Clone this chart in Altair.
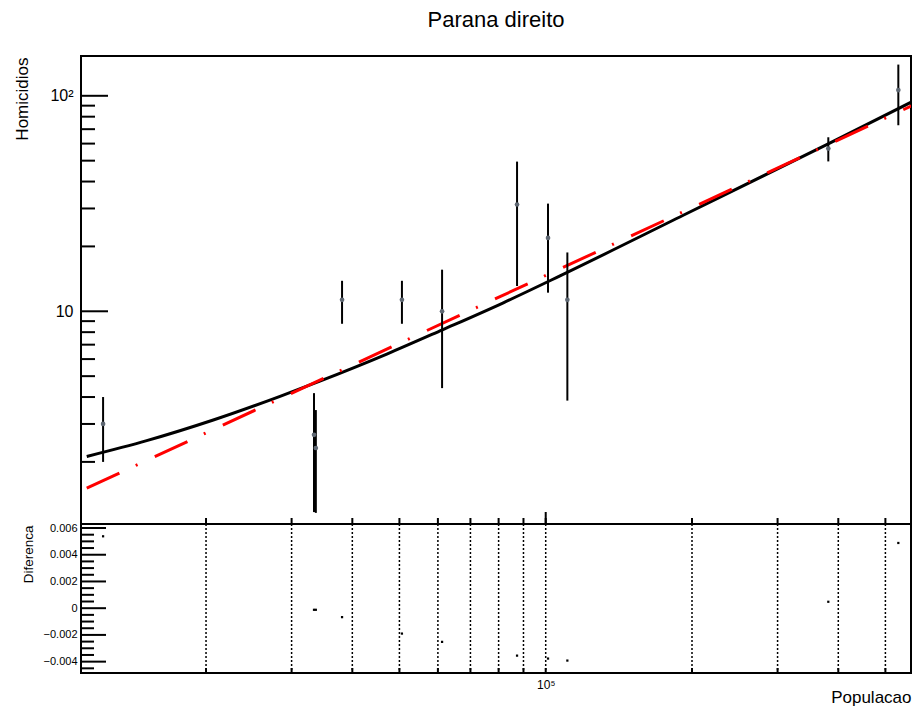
import altair as alt
import pandas as pd

FONT = "Liberation Sans"

# ---- measured data points (top panel) ----
pop = [12280, 33360, 33650, 38100, 50600, 61200, 87300, 101100, 110800, 381500, 531600]
hom = [3.0, 2.67, 2.32, 11.3, 11.3, 10.0, 31.3, 21.9, 11.3, 56.9, 106.3]
err = [1.0, 1.5, 1.16, 2.55, 2.55, 5.6, 18.2, 9.7, 7.45, 7.3, 33.3]
# residuals (bottom panel)
res = [0.00538, -0.00012, -0.00012, -0.00067, -0.0019, -0.00252, -0.00355, -0.00377, -0.00392, 0.00048, 0.00488]

# black fit curve
fit_pop = [11365, 15100, 20700, 28400, 34300, 47100, 61300, 81800, 107000, 191900, 378600, 570500]
fit_hom = [2.12, 2.51, 3.13, 4.03, 4.74, 6.33, 8.2, 10.95, 14.6, 27.9, 59.4, 94.5]

# red dash-dot power law (straight in log-log)
pow_pop = [11365, 570500]
pow_hom = [1.51, 90.5]

# ticks
y_major_top = [10, 100]
y_minor_top = [2, 3, 4, 5, 6, 7, 8, 9, 20, 30, 40, 50, 60, 70, 80, 90]
x_major = [100000]
x_minor = [20000, 30000, 40000, 50000, 60000, 70000, 80000, 90000, 200000, 300000, 400000, 500000]
x_all = x_minor + x_major
res_major = [-0.004, -0.002, 0, 0.002, 0.004, 0.006]
res_minor = [-0.0045, -0.0035, -0.003, -0.0025, -0.0015, -0.001, -0.0005, 0.0005, 0.001,
             0.0015, 0.0025, 0.003, 0.0035, 0.0045, 0.005, 0.0055]

W, H1, H2 = 830, 468, 149

df = pd.DataFrame({"pop": pop, "hom": hom, "err": err, "res": res})
df["lo"] = df["hom"] - df["err"]
df["hi"] = df["hom"] + df["err"]
fit_df = pd.DataFrame({"pop": fit_pop, "hom": fit_hom})
pow_df = pd.DataFrame({"pop": pow_pop, "hom": pow_hom})

xs = alt.Scale(type="log", domain=[11060, 564500], nice=False)
ys1 = alt.Scale(type="log", domain=[1.03, 153], nice=False)
ys2 = alt.Scale(type="linear", domain=[-0.00485, 0.0063], nice=False, zero=False)

yax1 = alt.Axis(values=y_major_top, labelExpr="datum.value >= 100 ? '10²' : '10'",
                ticks=False, domain=False, grid=False, labelFontSize=16, labelPadding=8,
                labelFont=FONT, labelColor="black", title="Homicidios", titleFont=FONT,
                titleFontSize=17, titleFontWeight="normal", titleColor="black",
                titleX=-59, titleY=1, titleAlign="right", titleBaseline="middle", titleAngle=270)

fit = alt.Chart(fit_df).mark_line(color="black", strokeWidth=3, interpolate="monotone", clip=True).encode(
    x=alt.X("pop:Q", scale=xs, axis=None), y=alt.Y("hom:Q", scale=ys1, axis=yax1))
powl = alt.Chart(pow_df).mark_line(color="#ff0000", strokeWidth=3, strokeDash=[36, 18, 2, 19], clip=True).encode(
    x=alt.X("pop:Q", scale=xs, axis=None), y=alt.Y("hom:Q", scale=ys1, axis=yax1))
bars = alt.Chart(df).mark_rule(color="black", strokeWidth=2).encode(
    x=alt.X("pop:Q", scale=xs, axis=None), y=alt.Y("lo:Q", scale=ys1, axis=yax1), y2="hi:Q")
pts = alt.Chart(df).mark_circle(color="#5f6873", size=22, opacity=1).encode(
    x=alt.X("pop:Q", scale=xs, axis=None), y=alt.Y("hom:Q", scale=ys1, axis=yax1))
ytm = alt.Chart(pd.DataFrame({"v": y_major_top})).mark_rule(color="black", strokeWidth=2).encode(
    y=alt.Y("v:Q", scale=ys1, axis=yax1), x=alt.value(0), x2=alt.value(27))
ytn = alt.Chart(pd.DataFrame({"v": y_minor_top})).mark_rule(color="black", strokeWidth=2).encode(
    y=alt.Y("v:Q", scale=ys1, axis=yax1), x=alt.value(0), x2=alt.value(14))

top = alt.layer(fit, powl, bars, pts, ytm, ytn).properties(
    width=W, height=H1,
    title=alt.TitleParams("Parana direito", font=FONT, fontSize=22, fontWeight="normal",
                          color="black", anchor="middle", frame="group", offset=24))

xax2 = alt.Axis(values=x_major, labelExpr="'10⁵'", ticks=False, domain=False, grid=False,
                labelFontSize=12, labelPadding=6, labelFont=FONT, labelColor="black",
                title="Populacao", titleFont=FONT, titleFontSize=17, titleFontWeight="normal",
                titleColor="black", titleX=W, titleY=29, titleAlign="right",
                titleBaseline="alphabetic")
yax2 = alt.Axis(values=res_major,
                labelExpr="datum.value == 0 ? '0' : format(datum.value, '.3f')",
                ticks=False, domain=False, grid=False, labelFontSize=11, labelPadding=4,
                labelFont=FONT, labelColor="black", title="Diferenca", titleFont=FONT,
                titleFontSize=13.5, titleFontWeight="normal", titleColor="black",
                titleX=-53, titleY=1, titleAlign="right", titleBaseline="middle", titleAngle=270)

xt_df = pd.DataFrame({"t": x_all})
xmaj_df = pd.DataFrame({"t": x_major})
grid = alt.Chart(xt_df).mark_rule(color="black", strokeWidth=1.5, strokeDash=[2, 2]).encode(
    x=alt.X("t:Q", scale=xs, axis=xax2))
up_ticks = alt.Chart(xt_df).mark_rule(color="black", strokeWidth=2).encode(
    x=alt.X("t:Q", scale=xs, axis=xax2), y=alt.value(-6), y2=alt.value(0))
up_major = alt.Chart(xmaj_df).mark_rule(color="black", strokeWidth=2).encode(
    x=alt.X("t:Q", scale=xs, axis=xax2), y=alt.value(-12), y2=alt.value(0))
bot_ticks = alt.Chart(xt_df).mark_rule(color="black", strokeWidth=2).encode(
    x=alt.X("t:Q", scale=xs, axis=xax2), y=alt.value(H2 - 5), y2=alt.value(H2))
rtm = alt.Chart(pd.DataFrame({"v": res_major})).mark_rule(color="black", strokeWidth=2).encode(
    y=alt.Y("v:Q", scale=ys2, axis=yax2), x=alt.value(0), x2=alt.value(25))
rtn = alt.Chart(pd.DataFrame({"v": res_minor})).mark_rule(color="black", strokeWidth=2).encode(
    y=alt.Y("v:Q", scale=ys2, axis=yax2), x=alt.value(0), x2=alt.value(13))
rpts = alt.Chart(df).mark_square(color="black", size=5, opacity=1).encode(
    x=alt.X("pop:Q", scale=xs, axis=xax2), y=alt.Y("res:Q", scale=ys2, axis=yax2))

bottom = alt.layer(grid, up_ticks, up_major, bot_ticks, rtm, rtn, rpts).properties(width=W, height=H2)

chart = alt.vconcat(top, bottom, spacing=0, bounds="flush").resolve_scale(
    x="independent", y="independent").properties(
    padding={"left": 4, "top": 0, "right": 0, "bottom": 0}
).configure(background="white").configure_view(stroke="black", strokeWidth=2)

chart.save("out.html", embed_options={"renderer": "svg", "actions": False})
